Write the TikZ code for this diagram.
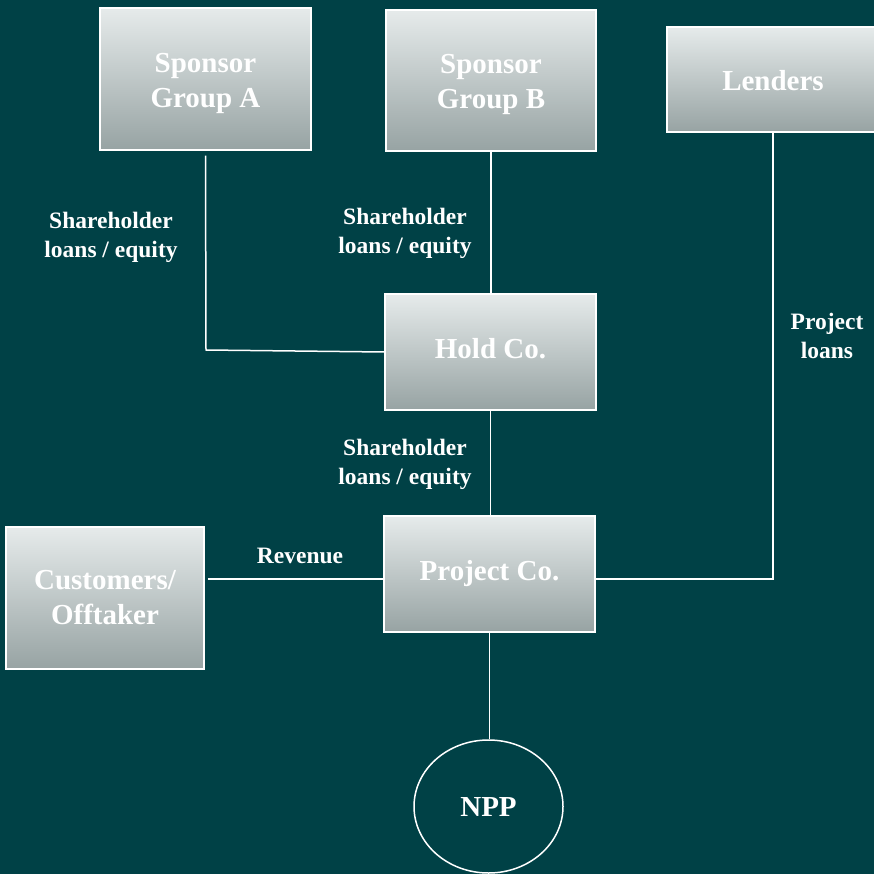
\documentclass[tikz,border=0pt]{standalone}
\usepackage{fontspec}
\setmainfont{Liberation Serif}
\usetikzlibrary{shapes.geometric}
\definecolor{bg}{HTML}{004146}
\definecolor{boxtop}{HTML}{E6EBEB}
\definecolor{boxbot}{HTML}{97A3A3}
\tikzset{
  party/.style={draw=white, line width=1.5pt, top color=boxtop, bottom color=boxbot, inner sep=0pt},
  caption/.style={text=white, font=\fontsize{29}{35}\selectfont\bfseries, align=center, inner sep=0pt},
  asset/.style={ellipse, draw=white, line width=1.5pt, text=white,
    font=\fontsize{29}{35}\selectfont\bfseries, inner sep=0pt},
  flow/.style={draw=white, line width=1.5pt},
  lbl/.style={text=white, font=\fontsize{23.5}{29}\selectfont\bfseries, align=center, inner sep=0pt}
}
\begin{document}
\begin{tikzpicture}[x=1pt,y=-1pt]
\fill[bg] (0,0) rectangle (874,874);
\useasboundingbox (0,0) rectangle (874,874);

% parties (shaded boxes) and their captions
\node[party, minimum width=211pt, minimum height=142pt] (spA) at (205.5,79) {};
\node[caption] (spA-t) at ([yshift=-4pt]spA.center) {Sponsor\\Group A};
\node[party, minimum width=210pt, minimum height=141pt] (spB) at (491,80.5) {};
\node[caption] (spB-t) at ([yshift=-4pt]spB.center) {Sponsor\\Group B};
\node[party, minimum width=212pt, minimum height=105pt] (lend) at (773,79.5) {};
\node[caption] (lend-t) at ([yshift=-1pt]lend.center) {Lenders};
\node[party, minimum width=211pt, minimum height=116pt] (hold) at (490.5,352) {};
\node[caption] (hold-t) at ([yshift=3pt]hold.center) {Hold Co.};
\node[party, minimum width=211pt, minimum height=116pt] (proj) at (489.5,574) {};
\node[caption] (proj-t) at (proj.center) {Project Co.};
\node[party, minimum width=198pt, minimum height=142pt] (cust) at (105,598) {};
\node[caption] (cust-t) at (cust.center) {Customers/\\Offtaker};
\node[asset, minimum width=149pt, minimum height=133pt] (npp) at (488.5,806.5) {NPP};

% connectors
\coordinate (elbowA) at (206,350);
\draw[flow] ([yshift=-5pt]spA.south) -- (elbowA) -- (hold.west);
\draw[flow] (spB.south) -- (spB.south |- hold.north);
\draw[flow] (hold.south) -- (hold.south |- proj.north);
\coordinate (projR) at ([yshift=-5pt]proj.east);
\coordinate (elbowL) at (lend.south |- projR);
\draw[flow] (projR) -- (elbowL) -- (lend.south);
\coordinate (projL) at ([yshift=-5pt]proj.west);
\coordinate (custR) at ([xshift=3pt]cust.east |- projL);
\draw[flow] (custR) -- (projL);
\draw[flow] (proj.south) -- (proj.south |- npp.north);

% flow labels
\node[lbl] (lblA) at (111,237) {Shareholder\\loans / equity};
\node[lbl] (lblB) at (405,233.5) {Shareholder\\loans / equity};
\node[lbl] (lblH) at (405,464) {Shareholder\\loans / equity};
\node[lbl] (lblL) at (827,336) {Project\\loans};
\node[lbl] (lblR) at (300,556) {Revenue};
\end{tikzpicture}
\end{document}
